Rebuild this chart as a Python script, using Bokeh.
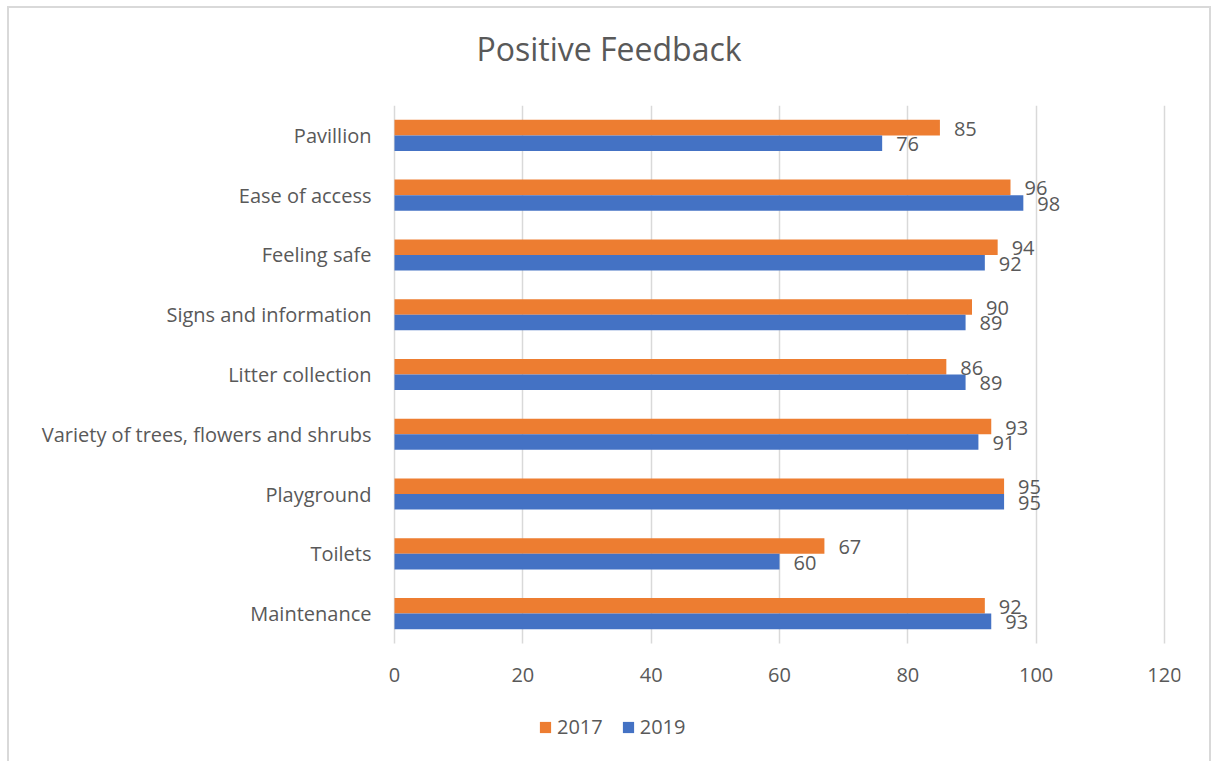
from bokeh.plotting import figure
from bokeh.models import (Range1d, FixedTicker, Legend, LegendItem, Grid,
                          ColumnDataSource, Title)
from bokeh.core.properties import value
from bokeh.embed import file_html
from bokeh.resources import INLINE

categories = ["Pavillion", "Ease of access", "Feeling safe", "Signs and information",
              "Litter collection", "Variety of trees, flowers and shrubs", "Playground",
              "Toilets", "Maintenance"]
values_2017 = [85, 96, 94, 90, 86, 93, 95, 67, 92]
values_2019 = [76, 98, 92, 89, 89, 91, 95, 60, 93]
x_ticks = [0, 20, 40, 60, 80, 100, 120]
series_names = ["2017", "2019"]

FONT = "Open Sans"
TXT = "#595959"
ORANGE = "#ED7D31"
BLUE = "#4472C4"
GRID = "#D9D9D9"

# layout (page pixels)
OX, OY = 9, 8                 # canvas origin inside the chart border
X0, X120 = 394, 1164          # page x of value 0 and value 120
EXT = 16                      # extra frame room on each side for the end tick labels
FRAME_TOP, CAT_BOTTOM = 105, 643
FRAME_BOTTOM = 761
n = len(categories)
px_per_cat = (CAT_BOTTOM - FRAME_TOP) / n
frame_h = FRAME_BOTTOM - FRAME_TOP
px_per_unit = (X120 - X0) / 120
frame_left = X0 - EXT

# category slots: top category at the top
pos = [n - 1 - i + 0.5 for i in range(n)]
src = ColumnDataSource(dict(
    pos=pos,
    y17=[y + 0.13 for y in pos],
    y19=[y - 0.13 for y in pos],
    v2017=values_2017,
    v2019=values_2019,
    l2017=[str(v) for v in values_2017],
    l2019=[str(v) for v in values_2019],
))

p = figure(width=1200, height=753, output_backend="svg", toolbar_location=None,
           x_range=Range1d(-EXT / px_per_unit, 120 + EXT / px_per_unit),
           y_range=Range1d(n - frame_h / px_per_cat, n),
           frame_width=(X120 - X0) + 2 * EXT, frame_height=frame_h,
           min_border_left=frame_left - OX, min_border_right=1209 - X120 - EXT,
           min_border_top=FRAME_TOP - OY, min_border_bottom=0)
p.margin = (6, 0, 0, 7)
p.styles = {"border-top": "2px solid #D9D9D9", "border-left": "2px solid #D9D9D9",
            "border-right": "2px solid #D9D9D9"}

title = Title(text="Positive Feedback", align="left", offset=82 + EXT, text_font_size="32px",
              text_font=FONT, text_color=TXT, text_font_style="normal", standoff=10,
              vertical_align="bottom")
try:
    title.padding = dict(left=0, right=0, top=0, bottom=31)
except Exception:
    title.standoff = 50
p.title = title

r17 = p.hbar(y="y17", right="v2017", left=0, height=0.26,
             source=src, fill_color=ORANGE, line_color=None)
r19 = p.hbar(y="y19", right="v2019", left=0, height=0.26,
             source=src, fill_color=BLUE, line_color=None)

p.text(x="v2017", y="y17", text="l2017", source=src,
       x_offset=14, y_offset=1, text_baseline="middle", text_align="left",
       text_font=value(FONT), text_font_size="20px", text_color=TXT)
p.text(x="v2019", y="y19", text="l2019", source=src,
       x_offset=14, y_offset=1, text_baseline="middle", text_align="left",
       text_font=value(FONT), text_font_size="20px", text_color=TXT)

# x axis drawn at the bottom of the category area
xa = p.xaxis[0]
xa.fixed_location = 0
xa.ticker = FixedTicker(ticks=x_ticks)
xa.axis_line_color = None
xa.major_tick_line_color = None
xa.minor_tick_line_color = None
xa.major_tick_out = 0
xa.major_tick_in = 0
xa.major_label_text_font = FONT
xa.major_label_text_font_size = "20px"
xa.major_label_text_color = TXT
xa.major_label_standoff = 24

ya = p.yaxis[0]
ya.ticker = FixedTicker(ticks=pos)
ya.major_label_overrides = {y: c for y, c in zip(pos, categories)}
ya.axis_line_color = None
ya.major_tick_line_color = None
ya.minor_tick_line_color = None
ya.major_tick_out = 0
ya.major_tick_in = 0
ya.major_label_text_font = FONT
ya.major_label_text_font_size = "20px"
ya.major_label_text_color = TXT
ya.major_label_standoff = 23 - EXT

p.ygrid.grid_line_color = None
p.outline_line_color = None
if "cross_bounds" in Grid.properties():
    p.xgrid.grid_line_color = GRID
    p.xgrid.grid_line_width = 1.5
    p.xgrid.cross_bounds = (0, n)
else:
    p.xgrid.grid_line_color = None
    p.segment(x0=x_ticks, x1=x_ticks, y0=[0] * len(x_ticks), y1=[n] * len(x_ticks),
              line_color=GRID, line_width=1.5, level="underlay")

legend = Legend(items=[LegendItem(label=series_names[0], renderers=[r17]),
                       LegendItem(label=series_names[1], renderers=[r19])],
                orientation="horizontal", location=(538 - frame_left, 21),
                label_text_font=FONT, label_text_font_size="20px", label_text_color=TXT,
                glyph_width=14, glyph_height=14, label_standoff=5, spacing=18,
                background_fill_alpha=0, border_line_color=None, margin=0, padding=0)
p.add_layout(legend, "center")

open("out.html", "w").write(file_html(p, INLINE))
